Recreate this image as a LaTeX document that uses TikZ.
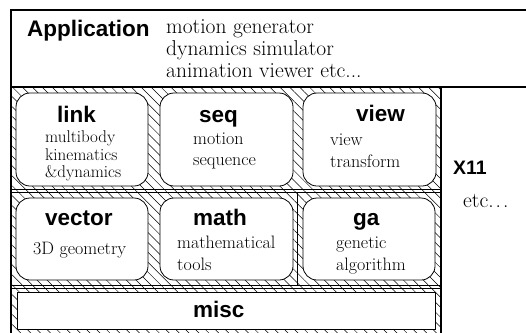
\documentclass[tikz,border=0pt]{standalone}
\usepackage{fontspec}
\newfontfamily\hv{Liberation Sans}
\usetikzlibrary{patterns.meta}
\begin{document}
\begin{tikzpicture}[x=1pt,y=-1pt,
  frame/.style={line width=1.3pt},
  divider/.style={line width=0.8pt},
  module/.style={draw, line width=0.8pt, fill=white, rounded corners=14pt},
  plainbox/.style={draw, line width=0.8pt, fill=white},
  hatch/.style={pattern={Lines[angle=-45,distance=7pt,line width=0.5pt]}},
  title/.style={anchor=base west, inner sep=0pt, font=\hv\bfseries\fontsize{22.5}{24}\selectfont},
  smalltitle/.style={anchor=base west, inner sep=0pt, font=\hv\bfseries\fontsize{19.5}{21}\selectfont},
  desc/.style={anchor=base west, inner sep=0pt, font=\fontsize{18}{20}\selectfont},
  linkdesc/.style={anchor=base west, inner sep=0pt, font=\fontsize{17}{19}\selectfont},
  apptext/.style={anchor=base west, inner sep=0pt, font=\fontsize{21.5}{23}\selectfont}]
\useasboundingbox (0,0) rectangle (526,332);
\clip (0,0) rectangle (526,332);
% hatched library area
\fill[hatch] (11,87) rectangle (441,340);
% frame lines
\draw[frame] (530,10) -- (11,10) -- (11,340);
\draw[frame] (11,87) -- (530,87);
\draw[frame] (441,87) -- (441,340);
\draw[divider] (11,189) -- (441,189);
\draw[divider] (11,192) -- (441,192);
\draw[divider] (11,285) -- (441,285);
\draw[divider] (11,288) -- (441,288);
\draw[divider] (297,192) -- (297,285);
% modules
\draw[module] (16,93) rectangle (148,186);
\draw[module] (160,93) rectangle (293,186);
\draw[module] (303,93) rectangle (436,186);
\draw[module] (16,198) rectangle (148,280);
\draw[module] (160,198) rectangle (293,280);
\draw[module] (303,198) rectangle (435,280);
\draw[plainbox] (17,292) rectangle (435,329);
% application
\node[title] (app) at (27,36) {Application};
\node[apptext] (app1) at (166,33) {motion generator};
\node[apptext] (app2) at (166,55) {dynamics simulator};
\node[apptext] (app3) at (166,77) {animation viewer etc...};
% row 1
\node[title] (link) at (57,122) {link};
\node[linkdesc] (link1) at (45,142) {multibody};
\node[linkdesc] (link2) at (45,160) {kinematics};
\node[linkdesc] (link3) at (45,177) {\&dynamics};
\node[title] (seq) at (199,122) {seq};
\node[desc] (seq1) at (193,144) {motion};
\node[desc] (seq2) at (193,165) {sequence};
\node[title] (view) at (356,121) {view};
\node[desc] (view1) at (330,145) {view};
\node[desc] (view2) at (330,167) {transform};
% row 2
\node[title] (vector) at (45,225) {vector};
\node[desc] (vector1) at (33,254) {3D geometry};
\node[title] (math) at (193,225) {math};
\node[desc] (math1) at (177,248) {mathematical};
\node[desc] (math2) at (177,270) {tools};
\node[title] (ga) at (353,225) {ga};
\node[desc] (ga1) at (336,248) {genetic};
\node[desc] (ga2) at (336,270) {algorithm};
% misc
\node[title] (misc) at (193,317) {misc};
% side
\node[smalltitle] (x11) at (453,174) {X11};
\node[apptext] (etc) at (463,207) {etc.\kern2pt.\kern2pt.};
\end{tikzpicture}
\end{document}
